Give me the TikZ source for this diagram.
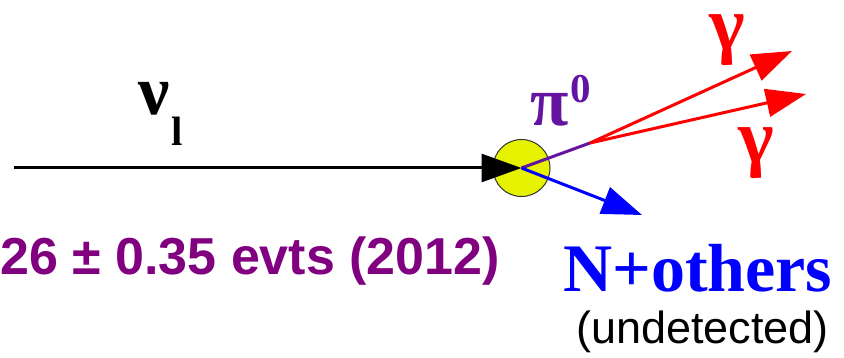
\documentclass[tikz,border=0pt]{standalone}
\usepackage{fontspec}
\setmainfont{Liberation Serif}
\newfontfamily\tmsb{Liberation Serif}[BoldFont={* Bold}]
\newfontfamily\arsf{Liberation Sans}[BoldFont={* Bold}]
\usetikzlibrary{arrows.meta}
\definecolor{vtxyellow}{RGB}{230,242,0}
\definecolor{pionviolet}{RGB}{100,20,160}
\definecolor{ratepurple}{RGB}{128,0,128}
\tikzset{
  track/.style={line width=3pt},
  bighead/.style={-{Triangle[length=40pt,width=28pt]}},
  greek/.style={inner sep=0pt, anchor=center, font=\tmsb\bfseries\fontsize{70}{70}\selectfont},
  gammalbl/.style={inner sep=0pt, anchor=center, font=\tmsb\bfseries\fontsize{76}{76}\selectfont},
  smallbold/.style={inner sep=0pt, anchor=center, font=\tmsb\bfseries\fontsize{41}{41}\selectfont},
}
\begin{document}
\begin{tikzpicture}[x=1pt,y=-1pt]
\useasboundingbox (0,0) rectangle (844,358);
% vertex
\node[circle, draw=black!80, line width=1pt, fill=vtxyellow, minimum size=57pt, inner sep=0pt] (vtx) at (521.5,168) {};
\coordinate (start) at (14,168);
\coordinate (split) at (590,143);
\coordinate (g1) at (792,51);
\coordinate (g2) at (806,94);
\coordinate (nout) at (642,215);
% tracks
\draw[track, bighead, black] (start) -- (vtx.center);
\draw[track, pionviolet] (vtx.center) -- (split);
\draw[track, bighead, red] (split) -- (g1);
\draw[track, bighead, red] (split) -- (g2);
\draw[track, bighead, blue] (vtx.center) -- (nout);
% labels
\node[greek, black] (nu) at (154.5,98.5) {ν};
\node[smallbold, black] (nusub) at (177,131) {l};
\node[greek, pionviolet] (pi) at (550,110) {π};
\node[smallbold, pionviolet] (pisup) at (581,89) {0};
\node[gammalbl, red] (gam1) at (727,40) {γ};
\node[gammalbl, red] (gam2) at (756,153) {γ};
\node[inner sep=0pt, anchor=base west, text=ratepurple, font=\arsf\bfseries\fontsize{52}{52}\selectfont] (rate) at (0,275) {26 ± 0.35 evts (2012)};
\node[inner sep=0pt, anchor=base west, text=blue, font=\tmsb\bfseries\fontsize{68}{68}\selectfont] (nothers) at (563,291) {N+others};
\node[inner sep=0pt, anchor=base west, text=black, font=\arsf\fontsize{45}{45}\selectfont] (undet) at (576,343) {(undetected)};
\end{tikzpicture}
\end{document}
